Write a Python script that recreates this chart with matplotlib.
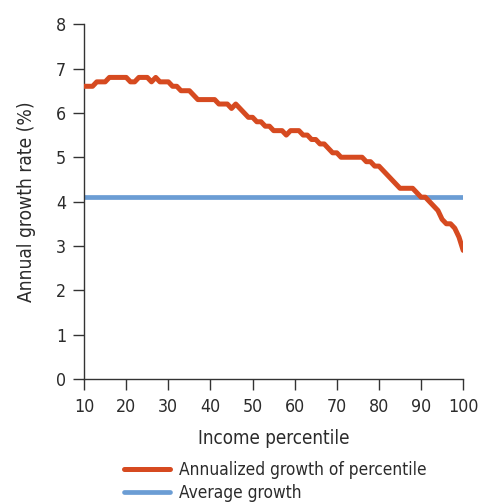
import matplotlib
matplotlib.use('Agg')
import matplotlib.pyplot as plt
import numpy as np

plt.rcParams['font.family'] = ['DejaVu Sans']
plt.rcParams['font.stretch'] = 'condensed'

# percentiles 10..100
percentiles = list(range(10, 101))
growth = [
    6.6, 6.6, 6.6, 6.7, 6.7, 6.7, 6.8, 6.8, 6.8, 6.8,   # 10-19
    6.8, 6.7, 6.7, 6.8, 6.8, 6.8, 6.7, 6.8, 6.7, 6.7,   # 20-29
    6.7, 6.6, 6.6, 6.5, 6.5, 6.5, 6.4, 6.3, 6.3, 6.3,   # 30-39
    6.3, 6.3, 6.2, 6.2, 6.2, 6.1, 6.2, 6.1, 6.0, 5.9,   # 40-49
    5.9, 5.8, 5.8, 5.7, 5.7, 5.6, 5.6, 5.6, 5.5, 5.6,   # 50-59
    5.6, 5.6, 5.5, 5.5, 5.4, 5.4, 5.3, 5.3, 5.2, 5.1,   # 60-69
    5.1, 5.0, 5.0, 5.0, 5.0, 5.0, 5.0, 4.9, 4.9, 4.8,   # 70-79
    4.8, 4.7, 4.6, 4.5, 4.4, 4.3, 4.3, 4.3, 4.3, 4.2,   # 80-89
    4.1, 4.1, 4.0, 3.9, 3.8, 3.6, 3.5, 3.5, 3.4, 3.2,   # 90-99
    2.9,                                                # 100
]
avg_growth = 4.1

x_ticks = list(range(10, 101, 10))
y_ticks = list(range(0, 9))

red = '#d64a20'
blue = '#6b9dd4'
text_col = '#2b2b2b'

fig = plt.figure(figsize=(4.78, 5.04), dpi=100)
ax = fig.add_axes([0.176, 0.248, 0.793, 0.704])

ax.plot(percentiles, growth, color=red, lw=3.6, solid_capstyle='round',
        label='Annualized growth of percentile', zorder=3)
ax.plot([percentiles[0], percentiles[-1]], [avg_growth, avg_growth], color=blue, lw=3.4,
        solid_capstyle='round', label='Average growth', zorder=2)

ax.set_xlim(10, 100)
ax.set_ylim(0, 8)
ax.set_xticks(x_ticks)
ax.set_yticks(y_ticks)
ax.tick_params(labelsize=12.8, colors='#333333', length=8, width=1, pad=5)
ax.tick_params(axis='x', labelcolor=text_col, pad=6)
ax.tick_params(axis='y', labelcolor=text_col)

for s in ['top', 'right']:
    ax.spines[s].set_visible(False)
for s in ['left', 'bottom']:
    ax.spines[s].set_color('#333333')
    ax.spines[s].set_linewidth(1)

ax.set_xlabel('Income percentile', fontsize=13.5, color=text_col, labelpad=9)
ax.set_ylabel('Annual growth rate (%)', fontsize=13.8, color=text_col, labelpad=14)

leg = ax.legend(loc='upper left', bbox_to_anchor=(0.245, 0.098), bbox_transform=fig.transFigure,
                frameon=False, fontsize=12.4, handlelength=2.7, handletextpad=0.5,
                labelspacing=0.25, borderaxespad=0)
for t in leg.get_texts():
    t.set_color(text_col)

fig.savefig('out.png', dpi=100)
